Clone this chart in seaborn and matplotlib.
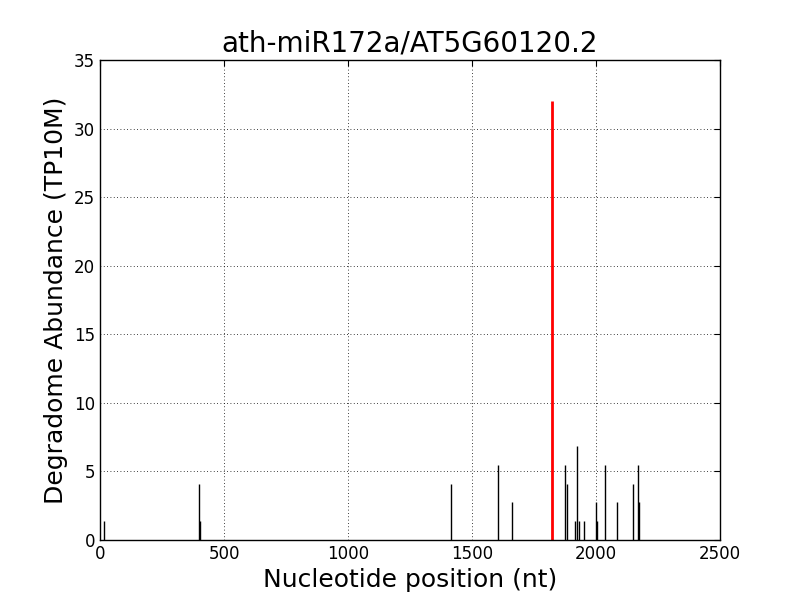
import seaborn as sns
import matplotlib.pyplot as plt

# Degradome peaks: position (nt) | abundance (TP10M)
positions = [16, 399, 403, 1414, 1603, 1660, 1876, 1884, 1917, 1924, 1933,
             1953, 2000, 2005, 2038, 2086, 2150, 2170, 2174]
abundance = [1.37, 4.11, 1.37, 4.11, 5.48, 2.74, 5.48, 4.11, 1.37, 6.85, 1.37,
             1.37, 2.74, 1.37, 5.48, 2.74, 4.11, 5.48, 2.74]

# miRNA cleavage site
target_pos = [1823]
target_val = [32.0]

sns.set_style('white', {'axes.edgecolor': 'black', 'xtick.direction': 'in',
                        'ytick.direction': 'in', 'text.color': 'black',
                        'axes.labelcolor': 'black', 'xtick.color': 'black',
                        'ytick.color': 'black'})
plt.rcParams['font.family'] = ['DejaVu Sans']

fig, ax = plt.subplots(figsize=(8, 6), dpi=100)
fig.subplots_adjust(left=0.125, right=0.9, bottom=0.1, top=0.9)

ax.vlines(positions, 0, abundance, colors='black', linewidth=1)
ax.vlines(target_pos, 0, target_val, colors='red', linewidth=2)

ax.set_xlim(0, 2500)
ax.set_ylim(0, 35)
ax.set_xticks(range(0, 2501, 500))
ax.set_yticks(range(0, 36, 5))
ax.grid(True, color='black', linestyle=(0, (1, 3)), linewidth=0.6)
ax.tick_params(top=True, right=True, labelsize=12, length=4, width=0.8)
for s in ax.spines.values():
    s.set_linewidth(1)

ax.set_title('ath-miR172a/AT5G60120.2', fontsize=20, color='black')
ax.set_xlabel('Nucleotide position (nt)', fontsize=18)
ax.set_ylabel('Degradome Abundance (TP10M)', fontsize=18)

fig.savefig('out.png', dpi=100)
